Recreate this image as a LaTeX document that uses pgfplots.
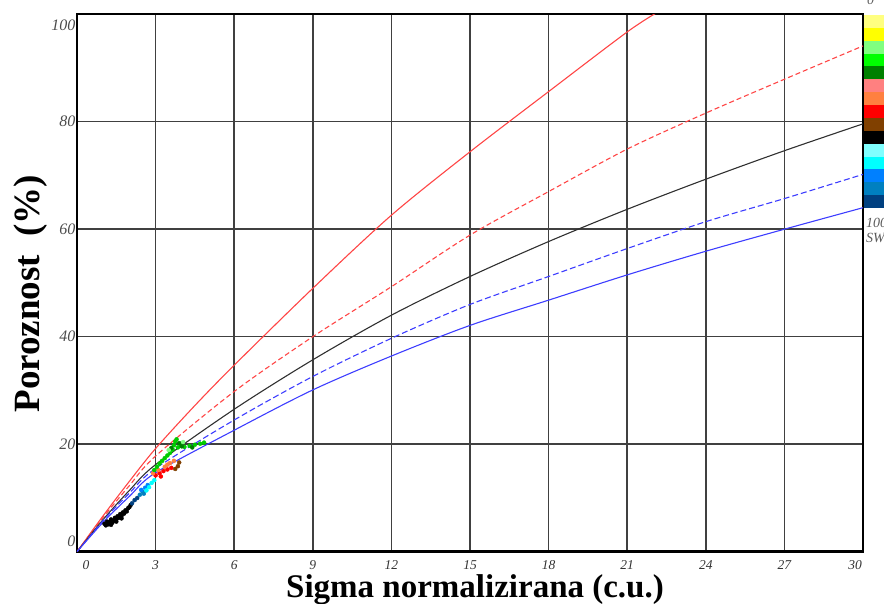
\documentclass[border=0pt]{standalone}
\usepackage{pgfplots}
\pgfplotsset{compat=1.18}
\usepackage{fontspec}
\setmainfont{Liberation Serif}
\definecolor{cRed}{HTML}{FF4545}
\definecolor{cBlue}{HTML}{3D3DFF}
\definecolor{cBlack}{HTML}{303030}
\definecolor{cb1}{HTML}{FFFF80}
\definecolor{cb2}{HTML}{FFFF00}
\definecolor{cb3}{HTML}{80FF80}
\definecolor{cb4}{HTML}{00FF00}
\definecolor{cb5}{HTML}{008000}
\definecolor{cb6}{HTML}{FF8080}
\definecolor{cb7}{HTML}{FF8040}
\definecolor{cb8}{HTML}{FF0000}
\definecolor{cb9}{HTML}{804000}
\definecolor{cb10}{HTML}{000000}
\definecolor{cb11}{HTML}{80FFFF}
\definecolor{cb12}{HTML}{00FFFF}
\definecolor{cb13}{HTML}{0080FF}
\definecolor{cb14}{HTML}{0080C0}
\definecolor{cb15}{HTML}{004080}
\begin{document}
\begin{tikzpicture}
\path[use as bounding box] (-77pt,-51.3pt) rectangle (807pt,551.7pt);
\begin{axis}[
  scale only axis, width=786pt, height=537.5pt,
  xmin=0, xmax=30, ymin=0, ymax=100,
  xtick={0,3,...,30}, ytick={0,20,...,100},
  xticklabels={\hspace*{18pt}0,3,6,9,12,15,18,21,24,27,{30\hspace*{16pt}}},
  yticklabels={\raisebox{10pt}[\height][\depth]{0},20,40,60,80,\raisebox{-11pt}[\height][\depth]{100}},
  grid=major, major grid style={black!75, line width=1.5pt},
  axis line style={line width=2.5pt, black},
  tick style={draw=none},
  /pgf/number format/assume math mode=true,
  xticklabel style={font=\fontsize{13.5}{13.5}\selectfont\itshape, text=black!80, yshift=-5pt},
  yticklabel style={font=\fontsize{16}{16}\selectfont\itshape, text=black!70, xshift=2pt},
  xlabel={Sigma normalizirana (c.u.)},
  ylabel={Poroznost\ \ (\%)},
  xlabel style={font=\fontsize{33}{33}\selectfont\bfseries, at={([xshift=5pt,yshift=-46pt]axis description cs:0.5,0)}, anchor=base},
  ylabel style={font=\fontsize{37}{37}\selectfont\bfseries, at={([xshift=-37pt]axis description cs:0,0.48)}, anchor=base, rotate=0},
]
% model curves
\addplot[cRed, line width=1.1pt, smooth] coordinates {(0,0)(1,6.7)(2,13.1)(3,19.2)(4.5,27.2)(6,34.7)(9,49)(12,62.6)(15,74.4)(18,85.6)(21,96.7)(22.2,100.5)};
\addplot[cRed, line width=1.1pt, smooth, dash pattern=on 5pt off 3pt] coordinates {(0,0)(1,6.4)(2,12.3)(3,17.8)(6,29.8)(9,40)(12,49.3)(15,58.9)(18,67)(21,74.9)(24,81.6)(27,87.9)(30,94.1)};
\addplot[cBlack, line width=1.1pt, smooth] coordinates {(0,0)(1,6.0)(2,11.4)(3,16.2)(6,26.5)(9,35.7)(12,44)(15,51.2)(18,57.7)(21,63.7)(24,69.3)(27,74.6)(30,79.6)};
\addplot[cBlue, line width=1.1pt, smooth, dash pattern=on 6pt off 3pt] coordinates {(0,0)(1,5.8)(2,10.9)(3,15.5)(6,24.5)(9,32.6)(12,39.7)(15,46)(18,51.2)(21,56.4)(24,61.4)(27,65.7)(30,70.2)};
\addplot[cBlue, line width=1.1pt, smooth] coordinates {(0,0)(1,5.5)(2,10.3)(3,14.7)(6,22.6)(9,30.1)(12,36.4)(15,42.1)(18,46.8)(21,51.5)(24,55.9)(27,60)(30,64)};
% measured points
\addplot[only marks, mark=*, mark size=2pt, mark options={draw=cb10, fill=cb10}] coordinates {(1.05,5.2)(1.1,4.9)(1.15,5.6)(1.2,5.1)(1.25,5.5)(1.3,6.0)(1.35,5.4)(1.4,5.8)(1.45,6.3)(1.5,6.0)(1.55,6.6)(1.6,6.3)(1.65,7.0)(1.7,6.7)(1.75,7.3)(1.8,7.1)(1.85,7.7)(1.9,7.5)(1.95,8.1)(2.0,8.3)(2.05,8.7)(1.3,5.0)(1.5,5.6)(1.7,6.2)};
\addplot[only marks, mark=*, mark size=2pt, mark options={draw=cb15, fill=cb15}] coordinates {(2.1,9.0)(2.2,9.6)(2.3,10.0)};
\addplot[only marks, mark=*, mark size=2pt, mark options={draw=cb14, fill=cb14}] coordinates {(2.4,10.6)(2.5,11.2)(2.55,10.8)};
\addplot[only marks, mark=*, mark size=2pt, mark options={draw=cb13, fill=cb13}] coordinates {(2.45,11.5)(2.6,11.9)(2.7,12.4)};
\addplot[only marks, mark=*, mark size=2pt, mark options={draw=cb12, fill=cb12}] coordinates {(2.65,11.4)(2.75,12.0)(2.85,12.8)(2.95,13.3)};
\addplot[only marks, mark=*, mark size=2pt, mark options={draw=cb8, fill=cb8}] coordinates {(3.0,14.2)(3.15,14.6)(3.3,15.0)(3.45,15.3)(3.6,15.6)(3.2,14.0)};
\addplot[only marks, mark=*, mark size=2pt, mark options={draw=cb7, fill=cb7}] coordinates {(2.9,14.6)(3.1,15.2)(3.35,15.8)(3.55,16.5)(3.7,16.9)(3.45,16.2)};
\addplot[only marks, mark=*, mark size=2pt, mark options={draw=cb9, fill=cb9}] coordinates {(3.75,15.4)(3.85,15.9)(3.9,16.6)};
\addplot[only marks, mark=*, mark size=2pt, mark options={draw=cb4!80!black, fill=cb4!80!black}] coordinates {(2.95,15.2)(3.05,15.8)(3.15,16.4)(3.25,16.9)(3.35,17.4)(3.45,17.9)(3.55,18.4)(3.65,19.0)(3.7,19.8)(3.75,20.5)(3.85,19.4)(3.95,19.9)(4.1,19.5)(4.3,19.7)(4.5,19.9)(4.7,20.1)(4.85,20.3)(3.8,20.9)};
\addplot[only marks, mark=*, mark size=2pt, mark options={draw=cb5, fill=cb5}] coordinates {(3.6,19.3)(3.9,20.2)(4.0,19.6)(4.4,19.4)};
\addplot[only marks, mark=*, mark size=2pt, mark options={draw=cb3, fill=cb3}] coordinates {(3.5,18.9)(4.05,20.4)};
\end{axis}
% SW colour key
\foreach \c [count=\i from 0] in {cb1,cb2,cb3,cb4,cb5,cb6,cb7,cb8,cb9,cb10,cb11,cb12,cb13,cb14,cb15} {
  \fill[\c] (787.3pt,{536.7pt-\i*12.87pt}) rectangle (810pt,{536.7pt-(\i+1)*12.87pt});
}
\node[font=\fontsize{14}{14}\selectfont\itshape, text=black!65, anchor=base west, inner sep=0] at (790pt,546.7pt) {0};
\node[font=\fontsize{14}{14}\selectfont\itshape, text=black!65, anchor=north west, inner sep=0] at (789pt,334pt) {100};
\node[font=\fontsize{14}{14}\selectfont\itshape, text=black!65, anchor=north west, inner sep=0] at (789pt,319pt) {SW};
\end{tikzpicture}
\end{document}
